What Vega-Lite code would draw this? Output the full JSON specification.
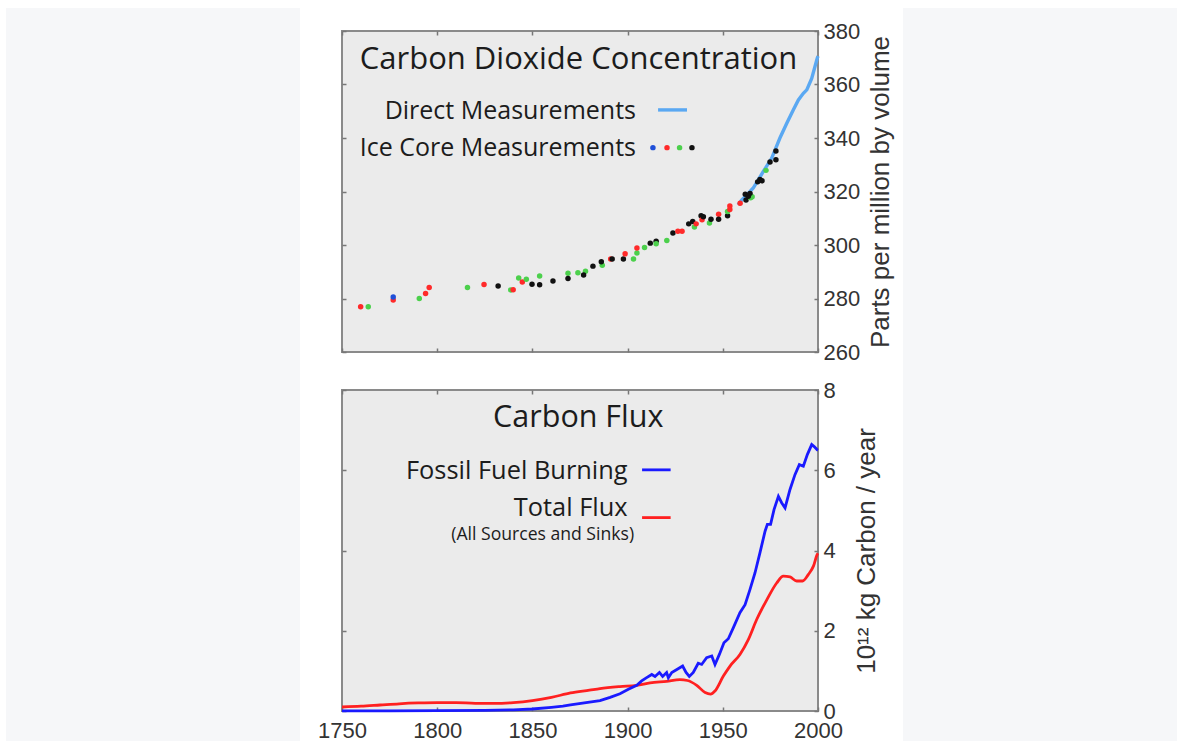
{
  "$schema": "https://vega.github.io/schema/vega-lite/v6.json",
  "background": "#ffffff",
  "padding": {"left": 6, "top": 8, "right": 0, "bottom": 0},
  "config": {
    "view": {"fill": "#ebebeb", "stroke": "#8a8a8a", "strokeWidth": 2},
    "axis": {
      "domain": false, "grid": false, "tickSize": -4, "tickColor": "#777777", "tickWidth": 1.5,
      "labelFont": "Liberation Sans", "labelFontSize": 22, "labelColor": "#333333",
      "labelFlush": false, "labelOverlap": false, "labelBound": false,
      "titleFont": "Liberation Sans", "titleFontSize": 26, "titleColor": "#333333", "titleFontWeight": "normal"
    },
    "text": {"font": "Open Sans", "color": "#1c1c1c"}
  },
  "datasets": {
    "ice": [
      {"year": 1759.8, "ppm": 276.9, "core": "B"},
      {"year": 1763.8, "ppm": 276.9, "core": "C"},
      {"year": 1776.9, "ppm": 279.4, "core": "B"},
      {"year": 1776.9, "ppm": 280.6, "core": "A"},
      {"year": 1790.6, "ppm": 280.0, "core": "C"},
      {"year": 1793.9, "ppm": 281.9, "core": "B"},
      {"year": 1795.8, "ppm": 284.1, "core": "B"},
      {"year": 1815.9, "ppm": 284.1, "core": "C"},
      {"year": 1824.6, "ppm": 285.2, "core": "B"},
      {"year": 1832.0, "ppm": 284.7, "core": "D"},
      {"year": 1838.6, "ppm": 283.2, "core": "C"},
      {"year": 1839.9, "ppm": 283.3, "core": "B"},
      {"year": 1842.8, "ppm": 287.7, "core": "C"},
      {"year": 1844.7, "ppm": 286.2, "core": "B"},
      {"year": 1846.8, "ppm": 287.2, "core": "C"},
      {"year": 1849.8, "ppm": 285.3, "core": "D"},
      {"year": 1853.8, "ppm": 285.1, "core": "D"},
      {"year": 1853.8, "ppm": 288.4, "core": "C"},
      {"year": 1860.8, "ppm": 286.5, "core": "D"},
      {"year": 1868.7, "ppm": 289.4, "core": "C"},
      {"year": 1868.7, "ppm": 287.5, "core": "D"},
      {"year": 1873.9, "ppm": 289.6, "core": "C"},
      {"year": 1877.9, "ppm": 290.2, "core": "C"},
      {"year": 1876.9, "ppm": 288.8, "core": "D"},
      {"year": 1881.8, "ppm": 292.1, "core": "D"},
      {"year": 1886.7, "ppm": 292.4, "core": "C"},
      {"year": 1886.2, "ppm": 293.7, "core": "D"},
      {"year": 1891.1, "ppm": 294.8, "core": "B"},
      {"year": 1891.9, "ppm": 294.8, "core": "D"},
      {"year": 1897.8, "ppm": 294.8, "core": "D"},
      {"year": 1898.7, "ppm": 296.7, "core": "B"},
      {"year": 1903.1, "ppm": 294.8, "core": "C"},
      {"year": 1904.9, "ppm": 297.0, "core": "C"},
      {"year": 1904.9, "ppm": 298.9, "core": "B"},
      {"year": 1908.9, "ppm": 299.1, "core": "C"},
      {"year": 1911.9, "ppm": 300.7, "core": "D"},
      {"year": 1915.0, "ppm": 301.4, "core": "D"},
      {"year": 1915.0, "ppm": 300.5, "core": "C"},
      {"year": 1920.6, "ppm": 301.7, "core": "C"},
      {"year": 1923.8, "ppm": 304.5, "core": "D"},
      {"year": 1926.4, "ppm": 305.1, "core": "B"},
      {"year": 1928.6, "ppm": 305.1, "core": "B"},
      {"year": 1932.1, "ppm": 307.9, "core": "D"},
      {"year": 1934.2, "ppm": 308.8, "core": "D"},
      {"year": 1935.1, "ppm": 306.7, "core": "C"},
      {"year": 1936.0, "ppm": 307.9, "core": "B"},
      {"year": 1938.6, "ppm": 310.9, "core": "D"},
      {"year": 1939.1, "ppm": 309.4, "core": "B"},
      {"year": 1939.8, "ppm": 310.6, "core": "D"},
      {"year": 1943.0, "ppm": 308.2, "core": "C"},
      {"year": 1943.8, "ppm": 309.6, "core": "D"},
      {"year": 1947.8, "ppm": 311.5, "core": "B"},
      {"year": 1947.8, "ppm": 309.6, "core": "D"},
      {"year": 1952.5, "ppm": 310.9, "core": "D"},
      {"year": 1952.5, "ppm": 312.5, "core": "C"},
      {"year": 1953.7, "ppm": 314.6, "core": "B"},
      {"year": 1953.7, "ppm": 313.3, "core": "B"},
      {"year": 1959.1, "ppm": 315.6, "core": "B"},
      {"year": 1961.8, "ppm": 319.0, "core": "D"},
      {"year": 1962.2, "ppm": 316.8, "core": "D"},
      {"year": 1964.6, "ppm": 317.7, "core": "C"},
      {"year": 1965.4, "ppm": 318.0, "core": "C"},
      {"year": 1963.4, "ppm": 318.2, "core": "D"},
      {"year": 1964.3, "ppm": 319.3, "core": "D"},
      {"year": 1968.3, "ppm": 323.6, "core": "D"},
      {"year": 1969.5, "ppm": 324.5, "core": "D"},
      {"year": 1970.6, "ppm": 324.0, "core": "D"},
      {"year": 1972.7, "ppm": 327.9, "core": "C"},
      {"year": 1974.8, "ppm": 331.0, "core": "D"},
      {"year": 1977.9, "ppm": 331.9, "core": "D"},
      {"year": 1977.9, "ppm": 335.1, "core": "D"}
    ],
    "direct": [
      {"year": 1958, "ppm": 315.0},
      {"year": 1960, "ppm": 316.9},
      {"year": 1963, "ppm": 319.0},
      {"year": 1966, "ppm": 321.3},
      {"year": 1969, "ppm": 324.8},
      {"year": 1971.3, "ppm": 327.5},
      {"year": 1975.7, "ppm": 332.5},
      {"year": 1980, "ppm": 340.0},
      {"year": 1983.6, "ppm": 345.5},
      {"year": 1987, "ppm": 350.5},
      {"year": 1989.7, "ppm": 354.2},
      {"year": 1992.3, "ppm": 356.7},
      {"year": 1994.1, "ppm": 358.0},
      {"year": 1996.7, "ppm": 362.3},
      {"year": 1999.6, "ppm": 369.8},
      {"year": 2000, "ppm": 370.6}
    ],
    "fossil": [
      {"year": 1750, "flux": 0.003}, {"year": 1775, "flux": 0.005}, {"year": 1800, "flux": 0.01},
      {"year": 1825, "flux": 0.015}, {"year": 1840, "flux": 0.03}, {"year": 1850, "flux": 0.05},
      {"year": 1860, "flux": 0.09}, {"year": 1866, "flux": 0.12}, {"year": 1870, "flux": 0.15},
      {"year": 1880, "flux": 0.22}, {"year": 1885.5, "flux": 0.26}, {"year": 1890.8, "flux": 0.34},
      {"year": 1896, "flux": 0.43}, {"year": 1900.4, "flux": 0.54}, {"year": 1904.8, "flux": 0.64},
      {"year": 1907.4, "flux": 0.75}, {"year": 1910, "flux": 0.83}, {"year": 1912.7, "flux": 0.91},
      {"year": 1914.4, "flux": 0.86}, {"year": 1916.7, "flux": 0.96}, {"year": 1918.4, "flux": 0.86},
      {"year": 1920.5, "flux": 0.96}, {"year": 1921.4, "flux": 0.83}, {"year": 1923.2, "flux": 0.96},
      {"year": 1926.1, "flux": 1.04}, {"year": 1928.9, "flux": 1.12}, {"year": 1930.7, "flux": 0.96},
      {"year": 1932.4, "flux": 0.86}, {"year": 1934.5, "flux": 0.96}, {"year": 1937.1, "flux": 1.19},
      {"year": 1938.9, "flux": 1.16}, {"year": 1941.5, "flux": 1.33}, {"year": 1944.2, "flux": 1.37},
      {"year": 1945.9, "flux": 1.16}, {"year": 1948.2, "flux": 1.41}, {"year": 1950.6, "flux": 1.70},
      {"year": 1952.9, "flux": 1.80}, {"year": 1955.5, "flux": 2.07}, {"year": 1959.0, "flux": 2.45},
      {"year": 1961.7, "flux": 2.65}, {"year": 1964.3, "flux": 3.03}, {"year": 1966.9, "flux": 3.44},
      {"year": 1969.5, "flux": 3.94}, {"year": 1972.2, "flux": 4.48}, {"year": 1973.4, "flux": 4.65},
      {"year": 1975.1, "flux": 4.65}, {"year": 1976.9, "flux": 5.02}, {"year": 1979.2, "flux": 5.35},
      {"year": 1980.9, "flux": 5.19}, {"year": 1982.7, "flux": 5.06}, {"year": 1985.3, "flux": 5.52},
      {"year": 1987.9, "flux": 5.89}, {"year": 1990.2, "flux": 6.14}, {"year": 1992.3, "flux": 6.10},
      {"year": 1994.4, "flux": 6.39}, {"year": 1996.7, "flux": 6.64}, {"year": 1998.0, "flux": 6.59},
      {"year": 1999.6, "flux": 6.51}, {"year": 2000, "flux": 6.5}
    ],
    "total": [
      {"year": 1750, "flux": 0.10}, {"year": 1760, "flux": 0.12}, {"year": 1770, "flux": 0.15},
      {"year": 1780, "flux": 0.18}, {"year": 1790, "flux": 0.20}, {"year": 1800, "flux": 0.21},
      {"year": 1810, "flux": 0.21}, {"year": 1820, "flux": 0.19}, {"year": 1830, "flux": 0.19},
      {"year": 1840, "flux": 0.21}, {"year": 1850, "flux": 0.26}, {"year": 1860, "flux": 0.34},
      {"year": 1870, "flux": 0.45}, {"year": 1880, "flux": 0.52}, {"year": 1885.5, "flux": 0.56},
      {"year": 1896, "flux": 0.61}, {"year": 1904.8, "flux": 0.64}, {"year": 1911.8, "flux": 0.70},
      {"year": 1920.5, "flux": 0.74}, {"year": 1927.5, "flux": 0.78}, {"year": 1931.4, "flux": 0.76},
      {"year": 1936.3, "flux": 0.64}, {"year": 1940.7, "flux": 0.46}, {"year": 1943.6, "flux": 0.42},
      {"year": 1945.9, "flux": 0.50}, {"year": 1950.3, "flux": 0.87}, {"year": 1953.8, "flux": 1.12},
      {"year": 1959.0, "flux": 1.41}, {"year": 1963.4, "flux": 1.78}, {"year": 1967.8, "flux": 2.28},
      {"year": 1973.1, "flux": 2.77}, {"year": 1978.3, "flux": 3.19}, {"year": 1981.8, "flux": 3.36},
      {"year": 1985.3, "flux": 3.34}, {"year": 1988.8, "flux": 3.24}, {"year": 1991.9, "flux": 3.24},
      {"year": 1994.9, "flux": 3.40}, {"year": 1997.6, "flux": 3.61}, {"year": 1999.6, "flux": 3.90},
      {"year": 2000, "flux": 3.93}
    ]
  },
  "bounds": "flush",
  "spacing": 42,
  "hconcat": [
    {
      "width": 294, "height": 733,
      "view": {"fill": "#f6f7f9", "stroke": null},
      "data": {"values": [{}]},
      "mark": {"type": "text", "text": ""},
      "encoding": {}
    },
    {
      "bounds": "flush",
      "spacing": 561,
      "hconcat": [
        {
          "bounds": "flush",
          "spacing": 0,
          "vconcat": [
            {
              "width": 476, "height": 23,
              "view": {"fill": null, "stroke": null},
              "data": {"values": [{}]},
              "mark": {"type": "text", "text": ""},
              "encoding": {}
            },
            {
              "bounds": "flush",
              "spacing": 38,
              "vconcat": [
                {
                  "width": 476, "height": 321,
                  "resolve": {"axis": {"x": "independent", "y": "independent"}},
                  "layer": [
                    {
                      "data": {"name": "direct"},
                      "mark": {"type": "line", "color": "#5aa8f2", "strokeWidth": 3.4},
                      "encoding": {
                        "x": {"field": "year", "type": "quantitative", "scale": {"domain": [1750, 2000], "nice": false},
                              "axis": {"orient": "top", "labels": false, "title": null, "values": [1750, 1800, 1850, 1900, 1950, 2000]}},
                        "y": {"field": "ppm", "type": "quantitative", "scale": {"domain": [260, 380], "nice": false, "zero": false},
                              "axis": {"orient": "left", "labels": false, "title": null, "values": [260, 280, 300, 320, 340, 360, 380]}}
                      }
                    },
                    {
                      "data": {"name": "ice"},
                      "mark": {"type": "circle", "size": 30, "opacity": 1},
                      "encoding": {
                        "x": {"field": "year", "type": "quantitative", "scale": {"domain": [1750, 2000], "nice": false},
                              "axis": {"orient": "bottom", "labels": false, "title": null, "values": [1750, 1800, 1850, 1900, 1950, 2000]}},
                        "y": {"field": "ppm", "type": "quantitative", "scale": {"domain": [260, 380], "nice": false, "zero": false},
                              "axis": {"orient": "right", "title": "Parts per million by volume", "values": [260, 280, 300, 320, 340, 360, 380],
                                       "labelPadding": 9, "titleAngle": 270, "titleBaseline": "top", "titlePadding": 8}},
                        "color": {"field": "core", "type": "nominal", "legend": null,
                                  "scale": {"domain": ["A", "B", "C", "D"], "range": ["#1f4fd8", "#ff2a2a", "#4cd04c", "#111111"]}}
                      }
                    },
                    {
                      "data": {"values": [{}]},
                      "mark": {"type": "text", "align": "center", "baseline": "middle", "fontSize": 31},
                      "encoding": {
                        "x": {"datum": 1874.2, "type": "quantitative", "axis": null},
                        "y": {"datum": 369.0, "type": "quantitative", "axis": null},
                        "text": {"value": "Carbon Dioxide Concentration"}
                      }
                    },
                    {
                      "data": {"values": [{}]},
                      "mark": {"type": "text", "align": "right", "baseline": "middle", "fontSize": 25},
                      "encoding": {
                        "x": {"datum": 1904.4, "type": "quantitative", "axis": null},
                        "y": {"datum": 350.0, "type": "quantitative", "axis": null},
                        "text": {"value": "Direct Measurements"}
                      }
                    },
                    {
                      "data": {"values": [{}]},
                      "mark": {"type": "text", "align": "right", "baseline": "middle", "fontSize": 25},
                      "encoding": {
                        "x": {"datum": 1904.4, "type": "quantitative", "axis": null},
                        "y": {"datum": 336.1, "type": "quantitative", "axis": null},
                        "text": {"value": "Ice Core Measurements"}
                      }
                    },
                    {
                      "data": {"values": [{}]},
                      "mark": {"type": "rule", "color": "#5aa8f2", "strokeWidth": 3.4},
                      "encoding": {
                        "x": {"datum": 1916.0, "type": "quantitative", "axis": null},
                        "x2": {"datum": 1931.2},
                        "y": {"datum": 350.5, "type": "quantitative", "axis": null}
                      }
                    },
                    {
                      "data": {"values": [{}]},
                      "mark": {"type": "circle", "size": 30, "opacity": 1, "color": "#1f4fd8"},
                      "encoding": {
                        "x": {"datum": 1913.3, "type": "quantitative", "axis": null},
                        "y": {"datum": 336.4, "type": "quantitative", "axis": null}
                      }
                    },
                    {
                      "data": {"values": [{}]},
                      "mark": {"type": "circle", "size": 30, "opacity": 1, "color": "#ff2a2a"},
                      "encoding": {
                        "x": {"datum": 1920.7, "type": "quantitative", "axis": null},
                        "y": {"datum": 336.4, "type": "quantitative", "axis": null}
                      }
                    },
                    {
                      "data": {"values": [{}]},
                      "mark": {"type": "circle", "size": 30, "opacity": 1, "color": "#4cd04c"},
                      "encoding": {
                        "x": {"datum": 1927.3, "type": "quantitative", "axis": null},
                        "y": {"datum": 336.4, "type": "quantitative", "axis": null}
                      }
                    },
                    {
                      "data": {"values": [{}]},
                      "mark": {"type": "circle", "size": 30, "opacity": 1, "color": "#111111"},
                      "encoding": {
                        "x": {"datum": 1933.8, "type": "quantitative", "axis": null},
                        "y": {"datum": 336.4, "type": "quantitative", "axis": null}
                      }
                    }
                  ]
                },
                {
                  "width": 476, "height": 321,
                  "resolve": {"axis": {"x": "independent", "y": "independent"}},
                  "layer": [
                    {
                      "data": {"name": "total"},
                      "mark": {"type": "line", "color": "#ff2020", "strokeWidth": 2.8, "interpolate": "monotone"},
                      "encoding": {
                        "x": {"field": "year", "type": "quantitative", "scale": {"domain": [1750, 2000], "nice": false},
                              "axis": {"orient": "top", "labels": false, "title": null, "values": [1750, 1800, 1850, 1900, 1950, 2000]}},
                        "y": {"field": "flux", "type": "quantitative", "scale": {"domain": [0, 8], "nice": false},
                              "axis": {"orient": "left", "labels": false, "title": null, "values": [0, 2, 4, 6, 8]}}
                      }
                    },
                    {
                      "data": {"name": "fossil"},
                      "mark": {"type": "line", "color": "#1a1aff", "strokeWidth": 2.8},
                      "encoding": {
                        "x": {"field": "year", "type": "quantitative", "scale": {"domain": [1750, 2000], "nice": false},
                              "axis": {"orient": "bottom", "title": null, "format": "d", "values": [1750, 1800, 1850, 1900, 1950, 2000], "labelPadding": 13}},
                        "y": {"field": "flux", "type": "quantitative", "scale": {"domain": [0, 8], "nice": false},
                              "axis": {"orient": "right", "title": "10¹² kg Carbon / year", "values": [0, 2, 4, 6, 8],
                                       "labelPadding": 9, "titleAngle": 270, "titleBaseline": "top", "titlePadding": 18}}
                      }
                    },
                    {
                      "data": {"values": [{}]},
                      "mark": {"type": "text", "align": "center", "baseline": "middle", "fontSize": 30.5},
                      "encoding": {
                        "x": {"datum": 1874.1, "type": "quantitative", "axis": null},
                        "y": {"datum": 7.3, "type": "quantitative", "axis": null},
                        "text": {"value": "Carbon Flux"}
                      }
                    },
                    {
                      "data": {"values": [{}]},
                      "mark": {"type": "text", "align": "right", "baseline": "middle", "fontSize": 25.4},
                      "encoding": {
                        "x": {"datum": 1900.0, "type": "quantitative", "axis": null},
                        "y": {"datum": 5.97, "type": "quantitative", "axis": null},
                        "text": {"value": "Fossil Fuel Burning"}
                      }
                    },
                    {
                      "data": {"values": [{}]},
                      "mark": {"type": "text", "align": "right", "baseline": "middle", "fontSize": 25.4},
                      "encoding": {
                        "x": {"datum": 1900.0, "type": "quantitative", "axis": null},
                        "y": {"datum": 5.05, "type": "quantitative", "axis": null},
                        "text": {"value": "Total Flux"}
                      }
                    },
                    {
                      "data": {"values": [{}]},
                      "mark": {"type": "text", "align": "right", "baseline": "middle", "fontSize": 17.6},
                      "encoding": {
                        "x": {"datum": 1903.4, "type": "quantitative", "axis": null},
                        "y": {"datum": 4.38, "type": "quantitative", "axis": null},
                        "text": {"value": "(All Sources and Sinks)"}
                      }
                    },
                    {
                      "data": {"values": [{}]},
                      "mark": {"type": "rule", "color": "#1a1aff", "strokeWidth": 2.8},
                      "encoding": {
                        "x": {"datum": 1907.6, "type": "quantitative", "axis": null},
                        "x2": {"datum": 1922.6},
                        "y": {"datum": 6.01, "type": "quantitative", "axis": null}
                      }
                    },
                    {
                      "data": {"values": [{}]},
                      "mark": {"type": "rule", "color": "#ff2020", "strokeWidth": 2.8},
                      "encoding": {
                        "x": {"datum": 1907.6, "type": "quantitative", "axis": null},
                        "x2": {"datum": 1922.6},
                        "y": {"datum": 4.82, "type": "quantitative", "axis": null}
                      }
                    }
                  ]
                }
              ]
            }
          ]
        },
        {
          "width": 274, "height": 733,
          "view": {"fill": "#f6f7f9", "stroke": null},
          "data": {"values": [{}]},
          "mark": {"type": "text", "text": ""},
          "encoding": {}
        }
      ]
    }
  ]
}
